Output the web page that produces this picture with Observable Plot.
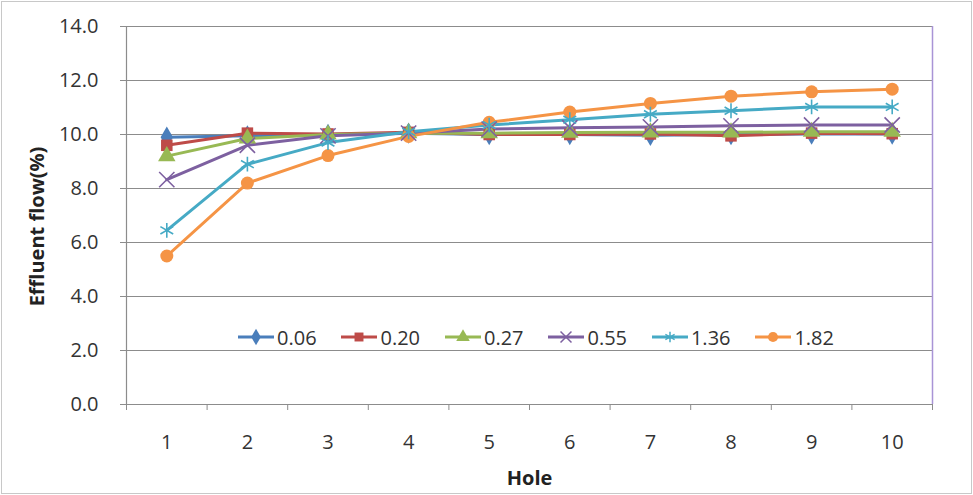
<!DOCTYPE html>
<html><head><meta charset="utf-8">
<script src="https://cdn.jsdelivr.net/npm/d3@7"></script>
<script src="https://cdn.jsdelivr.net/npm/@observablehq/plot@0.6"></script>
<style>
body{margin:0;background:#fff;}
#wrap{position:relative;width:973px;height:495px;overflow:hidden;}
#frame{position:absolute;left:1px;top:1px;width:969px;height:491px;border:1px solid #c8c8c8;pointer-events:none;}
#legend{position:absolute;top:324px;left:236px;width:598px;height:26px;display:flex;justify-content:space-between;align-items:center;font-family:"Open Sans",sans-serif;font-size:20px;color:#333;}
#legend .it{display:flex;align-items:center;}
#legend svg{margin-right:1px;}
</style>
</head><body>
<div id="wrap"><div id="chart"></div><div id="legend"></div><div id="frame"></div></div>
<script>
const holes = [1, 2, 3, 4, 5, 6, 7, 8, 9, 10];
const seriesNames = ["0.06", "0.20", "0.27", "0.55", "1.36", "1.82"];
const s006 = [9.90, 9.95, 10.00, 10.05, 10.00, 10.00, 9.97, 10.00, 10.02, 10.02];
const s020 = [9.60, 10.05, 10.02, 10.08, 10.00, 10.00, 10.02, 9.95, 10.05, 10.03];
const s027 = [9.20, 9.85, 10.00, 10.05, 10.05, 10.07, 10.08, 10.08, 10.10, 10.10];
const s055 = [8.33, 9.60, 9.95, 10.05, 10.20, 10.25, 10.28, 10.32, 10.35, 10.35];
const s136 = [6.45, 8.90, 9.70, 10.10, 10.35, 10.55, 10.75, 10.88, 11.02, 11.02];
const s182 = [5.50, 8.20, 9.22, 9.93, 10.45, 10.83, 11.15, 11.42, 11.58, 11.68];
const yTicks = [0, 2, 4, 6, 8, 10, 12, 14];

const values = [s006, s020, s027, s055, s136, s182];
const colors = ["#4A7EBB", "#BE4B48", "#98B954", "#7D60A0", "#46AAC5", "#F59445"];
const symbols = ["diamond", "square", "triangle", "times", "asterisk", "circle"];
const filled = new Set(["0.06", "0.20", "0.27", "1.82"]);

const data = seriesNames.flatMap((s, i) => holes.map((h, j) => ({hole: h, value: values[i][j], series: s})));
const font = '"Open Sans", sans-serif';
const edges = holes.map(h => h - 0.5).concat([holes[holes.length - 1] + 0.5]);

const chart = Plot.plot({
  width: 973, height: 495,
  marginLeft: 126, marginRight: 41, marginTop: 26, marginBottom: 91,
  style: {fontFamily: font, fontSize: "20px", color: "#333", background: "transparent"},
  x: {domain: [holes[0] - 0.5, holes[holes.length - 1] + 0.5]},
  y: {domain: [0, 14]},
  color: {domain: seriesNames, range: colors},
  symbol: {domain: seriesNames, range: symbols},
  marks: [
    Plot.ruleY(yTicks.filter(d => d > 0), {stroke: "#8c8c8c", strokeWidth: 1.2}),
    Plot.ruleX([edges[edges.length - 1]], {stroke: "#a994d6", strokeWidth: 1.5}),
    Plot.ruleX([edges[0]], {stroke: "#8c8c8c", strokeWidth: 1.2}),
    Plot.ruleY([0], {stroke: "#8c8c8c", strokeWidth: 1.2}),
    Plot.axisY({ticks: yTicks, tickFormat: d => d.toFixed(1), tickSize: 6, tickPadding: 22, stroke: "#8c8c8c", fill: "#333", label: null}),
    Plot.axisX({ticks: holes, tickSize: 0, tickPadding: 30, fill: "#333", label: null}),
    Plot.axisX({ticks: edges, tickFormat: () => "", tickSize: 6, stroke: "#8c8c8c", label: null}),
    Plot.line(data, {x: "hole", y: "value", z: "series", stroke: "series", strokeWidth: 3}),
    Plot.dot(data.filter(d => filled.has(d.series)), {x: "hole", y: "value", symbol: "series", fill: "series", r: 6.5}),
    Plot.dot(data.filter(d => !filled.has(d.series)), {x: "hole", y: "value", symbol: "series", stroke: "series", strokeWidth: 1.6, r: 7}),
    Plot.text(["Hole"], {frameAnchor: "bottom", lineAnchor: "middle", dy: 74, fontWeight: "bold", fontSize: 20, fill: "#222"}),
    Plot.text(["Effluent flow(%)"], {frameAnchor: "left", textAnchor: "middle", lineAnchor: "middle", dx: -89, dy: 11, rotate: -90, fontWeight: "bold", fontSize: 20, fill: "#222"})
  ]
});
document.getElementById("chart").appendChild(chart);

const legend = document.getElementById("legend");
const symMap = {diamond: d3.symbolDiamond, square: d3.symbolSquare, triangle: d3.symbolTriangle, times: d3.symbolTimes, asterisk: d3.symbolAsterisk, circle: d3.symbolCircle};
seriesNames.forEach((s, i) => {
  const it = document.createElement("div");
  it.className = "it";
  const svg = d3.create("svg").attr("width", 40).attr("height", 22);
  svg.append("line").attr("x1", 2).attr("x2", 38).attr("y1", 11).attr("y2", 11).attr("stroke", colors[i]).attr("stroke-width", 3);
  const p = d3.symbol(symMap[symbols[i]], 80)();
  const path = svg.append("path").attr("d", p).attr("transform", "translate(20,11)");
  if (filled.has(s)) path.attr("fill", colors[i]); else path.attr("fill", "none").attr("stroke", colors[i]).attr("stroke-width", 1.5);
  it.appendChild(svg.node());
  const t = document.createElement("span");
  t.textContent = s;
  it.appendChild(t);
  legend.appendChild(it);
});
</script>
</body></html>
